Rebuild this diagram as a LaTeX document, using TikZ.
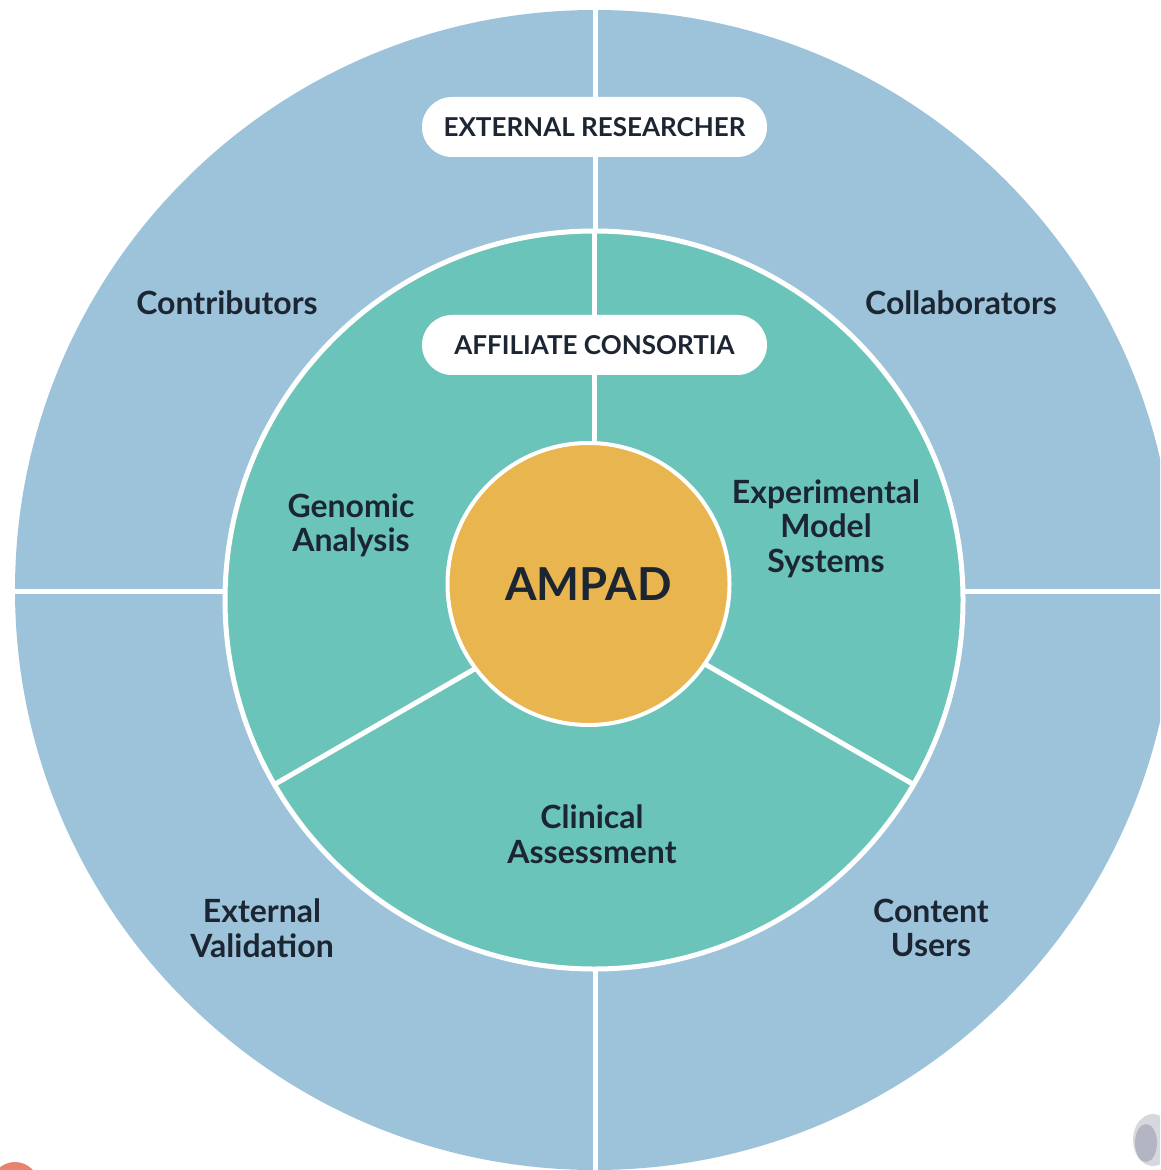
\documentclass[tikz,border=0pt]{standalone}
\usepackage{fontspec}
\setmainfont{Lato}
\usetikzlibrary{calc}

\definecolor{ringblue}{HTML}{9DC3DA}
\definecolor{ringteal}{HTML}{6BC4BA}
\definecolor{coreorange}{HTML}{E9B54F}
\definecolor{inkdark}{HTML}{1C2633}
\definecolor{dotsalmon}{HTML}{E8836E}
\definecolor{knoblight}{HTML}{D6D8DE}
\definecolor{knobdark}{HTML}{B3B6C2}

\tikzset{
  divider/.style={white, line width=2.5pt},
  pill/.style={fill=white, rounded corners=15pt, minimum width=172.5pt,
               minimum height=30pt, inner sep=0pt, text=inkdark,
               font=\fontsize{13}{15}\selectfont\bfseries},
  sectorlabel/.style={text=inkdark, align=center, inner sep=0pt,
               font=\fontsize{16}{17.3}\selectfont\bfseries},
  corelabel/.style={text=inkdark, inner sep=0pt,
               font=\fontsize{22.7}{26}\selectfont\bfseries}
}

\begin{document}
\begin{tikzpicture}[x=0.5pt, y=-0.5pt]
  % canvas, one unit = one pixel
  \useasboundingbox (0,0) rectangle (1160,1170);
  \clip (0,0) rectangle (1160,1170);

  % centres of the three rings
  \coordinate (oc) at (595,590);
  \coordinate (mc) at (594,600);
  \coordinate (cc) at (588.5,584);

  % outer ring
  \fill[ringblue] (oc) circle[radius=580];
  \coordinate (otop) at (595,0);
  \coordinate (obot) at (595,1170);
  \coordinate (oleft) at (0,591);
  \coordinate (oright) at (1160,591);
  \draw[divider] (otop) -- (obot);
  \draw[divider] (oleft) -- (oright);

  % middle ring with three sectors
  \fill[ringteal] (mc) circle[radius=369];
  \draw[divider] (mc) circle[radius=369];
  \coordinate (mtop) at (594,231);
  \coordinate (mleft) at (274.4,784.5);
  \coordinate (mright) at (913.6,784.5);
  \draw[divider] (mc) -- (mtop);
  \draw[divider] (mc) -- (mleft);
  \draw[divider] (mc) -- (mright);

  % core
  \fill[coreorange] (cc) circle[radius=141];
  \draw[white, line width=2pt] (cc) circle[radius=141];
  \node[corelabel] (ampad) at (cc) {AMPAD};

  % pill labels on the vertical divider
  \node[pill] (extres) at (594.5,127) {EXTERNAL RESEARCHER};
  \node[pill] (affcons) at (594.5,345) {AFFILIATE CONSORTIA};

  % outer ring labels
  \node[sectorlabel] (contrib) at (227,303) {Contributors};
  \node[sectorlabel] (collab) at (961,303) {Collaborators};
  \node[sectorlabel] (extval) at (262,928) {External\\Validation};
  \node[sectorlabel] (users) at (931,928) {Content\\Users};

  % middle ring labels
  \node[sectorlabel] (genomic) at (351,525.5) {Genomic\\Analysis};
  \node[sectorlabel] (models) at (826,528.5) {Experimental\\Model\\Systems};
  \node[sectorlabel] (clinical) at (592,834) {Clinical\\Assessment};

  % corner marks
  \fill[dotsalmon] (15,1186) circle[radius=24];
  \fill[knoblight] (1153,1140) ellipse[x radius=20, y radius=26];
  \fill[knobdark] (1146,1143) ellipse[x radius=11, y radius=19];
\end{tikzpicture}
\end{document}
